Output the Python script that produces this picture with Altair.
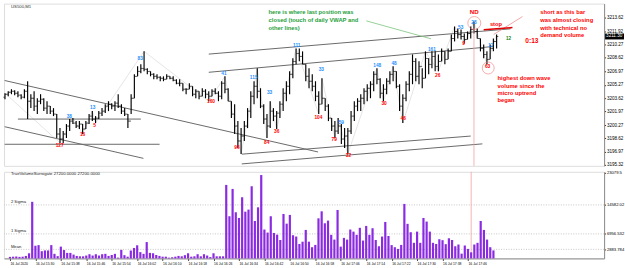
import altair as alt
import pandas as pd

# ---------------- data ----------------
bar_index = list(range(153))

open_ = [3203.73, 3204.10, 3204.35, 3204.47, 3204.22, 3203.98, 3203.73, 3204.47, 3203.23, 3203.60,
         3202.62, 3203.23, 3203.48, 3202.37, 3202.62, 3202.00, 3201.63, 3199.15, 3198.53, 3199.15,
         3200.14, 3200.76, 3200.51, 3200.14, 3200.39, 3199.77, 3200.51, 3201.38, 3201.01, 3201.13,
         3201.75, 3202.00, 3202.62, 3202.86, 3202.62, 3202.99, 3202.62, 3202.00, 3201.63, 3200.76,
         3203.60, 3206.32, 3206.94, 3207.31, 3207.19, 3206.94, 3206.57, 3206.32, 3206.20, 3206.08,
         3205.95, 3206.32, 3206.08, 3205.83, 3205.46, 3205.46, 3204.72, 3204.72, 3205.09, 3204.10,
         3204.47, 3203.85, 3204.47, 3204.10, 3203.85, 3204.47, 3204.22, 3203.85, 3205.46, 3204.72,
         3203.23, 3201.63, 3200.14, 3198.29, 3198.90, 3200.14, 3202.00, 3203.85, 3205.09, 3204.47,
         3202.62, 3201.01, 3200.14, 3202.00, 3201.38, 3201.75, 3202.86, 3204.22, 3205.09, 3206.57,
         3208.18, 3209.17, 3208.80, 3207.81, 3206.32, 3205.71, 3205.09, 3203.85, 3202.86, 3203.60,
         3202.62, 3201.13, 3200.14, 3199.52, 3200.14, 3198.53, 3198.90, 3199.52, 3201.38, 3202.62,
         3203.23, 3203.60, 3204.47, 3204.84, 3205.34, 3206.57, 3205.95, 3204.22, 3204.72, 3205.71,
         3206.57, 3206.94, 3205.09, 3202.62, 3203.60, 3205.34, 3206.57, 3208.18, 3206.32, 3207.56,
         3206.08, 3208.55, 3207.81, 3208.80, 3207.56, 3208.18, 3209.42, 3208.43, 3209.42, 3211.02,
         3211.89, 3211.52, 3211.27, 3210.90, 3211.64, 3212.14, 3211.89, 3211.02, 3209.79, 3209.04,
         3208.43, 3209.79, 3210.65]

high = [3204.22, 3204.47, 3204.72, 3204.59, 3204.47, 3204.10, 3204.72, 3205.71, 3204.10, 3204.47,
        3203.60, 3204.10, 3203.60, 3203.23, 3202.62, 3202.37, 3201.63, 3199.89, 3199.52, 3200.39,
        3201.01, 3201.13, 3200.76, 3200.76, 3200.39, 3200.76, 3201.63, 3202.00, 3201.38, 3202.00,
        3202.37, 3202.86, 3203.23, 3202.99, 3203.23, 3204.10, 3202.86, 3202.37, 3201.63, 3204.10,
        3206.57, 3207.56, 3207.81, 3209.42, 3207.31, 3206.94, 3206.70, 3206.57, 3206.32, 3206.32,
        3206.57, 3206.32, 3206.32, 3205.95, 3205.95, 3205.46, 3204.84, 3205.46, 3205.09, 3204.72,
        3204.47, 3204.84, 3204.72, 3204.47, 3204.72, 3204.84, 3204.47, 3205.71, 3206.32, 3204.84,
        3203.23, 3202.86, 3200.76, 3199.89, 3200.76, 3202.37, 3204.47, 3205.71, 3207.31, 3204.84,
        3202.86, 3201.63, 3203.23, 3202.37, 3202.00, 3203.23, 3204.84, 3205.71, 3206.94, 3208.55,
        3209.79, 3209.79, 3209.42, 3207.81, 3207.31, 3206.57, 3205.71, 3204.47, 3206.08, 3203.60,
        3202.86, 3201.13, 3200.76, 3201.13, 3200.39, 3199.89, 3199.89, 3202.00, 3203.23, 3203.60,
        3204.10, 3204.84, 3205.34, 3205.71, 3206.94, 3207.31, 3206.08, 3205.34, 3206.08, 3206.94,
        3207.56, 3206.94, 3205.34, 3204.10, 3205.71, 3206.94, 3209.04, 3208.55, 3208.18, 3207.31,
        3209.42, 3208.55, 3209.42, 3209.42, 3209.04, 3209.79, 3209.42, 3209.79, 3211.52, 3212.51,
        3212.26, 3212.14, 3211.64, 3211.89, 3212.51, 3213.13, 3212.26, 3211.02, 3210.28, 3209.42,
        3210.28, 3211.02, 3211.52]

low = [3203.48, 3203.85, 3204.10, 3203.98, 3203.73, 3203.48, 3203.60, 3201.01, 3202.37, 3202.00,
       3201.63, 3202.86, 3202.00, 3201.63, 3201.63, 3201.38, 3198.66, 3198.04, 3198.04, 3198.66,
       3199.52, 3200.39, 3199.89, 3199.77, 3199.15, 3199.77, 3200.39, 3200.76, 3200.51, 3201.01,
       3201.38, 3201.75, 3202.00, 3202.24, 3202.00, 3202.37, 3201.63, 3201.38, 3199.89, 3201.63,
       3203.60, 3206.32, 3206.70, 3206.94, 3206.57, 3206.32, 3205.95, 3205.95, 3205.71, 3205.71,
       3205.95, 3205.95, 3205.71, 3205.34, 3205.09, 3204.47, 3204.10, 3204.72, 3203.85, 3203.60,
       3203.48, 3203.85, 3203.60, 3203.23, 3203.85, 3204.10, 3203.23, 3203.48, 3204.22, 3203.23,
       3201.13, 3199.15, 3197.42, 3196.68, 3198.29, 3199.89, 3201.13, 3202.86, 3203.60, 3202.37,
       3200.39, 3198.66, 3199.89, 3200.76, 3199.77, 3201.13, 3202.00, 3203.23, 3204.10, 3206.08,
       3207.81, 3208.18, 3207.81, 3205.71, 3204.84, 3204.47, 3203.23, 3201.63, 3202.86, 3202.00,
       3200.76, 3199.52, 3198.66, 3199.15, 3197.92, 3197.42, 3196.68, 3199.15, 3200.76, 3202.00,
       3202.00, 3202.86, 3203.23, 3203.60, 3204.47, 3205.34, 3203.60, 3203.23, 3204.10, 3205.34,
       3205.71, 3204.84, 3202.00, 3200.51, 3203.23, 3204.47, 3205.34, 3205.71, 3205.34, 3204.84,
       3206.08, 3206.57, 3207.31, 3206.94, 3206.94, 3208.18, 3207.81, 3208.43, 3209.42, 3210.65,
       3211.02, 3210.90, 3210.41, 3210.90, 3211.02, 3211.64, 3211.02, 3209.42, 3208.55, 3207.81,
       3208.43, 3209.42, 3209.79]

close = [3204.10, 3204.35, 3204.47, 3204.22, 3203.98, 3203.73, 3204.47, 3203.23, 3203.60, 3202.62,
         3203.23, 3203.48, 3202.37, 3202.62, 3202.00, 3201.63, 3199.15, 3198.53, 3199.15, 3200.14,
         3200.76, 3200.51, 3200.14, 3200.39, 3199.77, 3200.51, 3201.38, 3201.01, 3201.13, 3201.75,
         3202.00, 3202.62, 3202.86, 3202.62, 3202.99, 3202.62, 3202.00, 3201.63, 3200.76, 3203.60,
         3206.32, 3206.94, 3207.31, 3207.19, 3206.94, 3206.57, 3206.32, 3206.20, 3206.08, 3205.95,
         3206.32, 3206.08, 3205.83, 3205.46, 3205.46, 3204.72, 3204.72, 3205.09, 3204.10, 3204.47,
         3203.85, 3204.47, 3204.10, 3203.85, 3204.47, 3204.22, 3203.85, 3205.46, 3204.72, 3203.23,
         3201.63, 3200.14, 3198.29, 3198.90, 3200.14, 3202.00, 3203.85, 3205.09, 3204.47, 3202.62,
         3201.01, 3200.14, 3202.00, 3201.38, 3201.75, 3202.86, 3204.22, 3205.09, 3206.57, 3208.18,
         3209.17, 3208.80, 3207.81, 3206.32, 3205.71, 3205.09, 3203.85, 3202.86, 3203.60, 3202.62,
         3201.13, 3200.14, 3199.52, 3200.14, 3198.53, 3198.90, 3199.52, 3201.38, 3202.62, 3203.23,
         3203.60, 3204.47, 3204.84, 3205.34, 3206.57, 3205.95, 3204.22, 3204.72, 3205.71, 3206.57,
         3206.94, 3205.09, 3202.62, 3203.60, 3205.34, 3206.57, 3208.18, 3206.32, 3207.56, 3206.08,
         3208.55, 3207.81, 3208.80, 3207.56, 3208.18, 3209.42, 3208.43, 3209.42, 3211.02, 3211.89,
         3211.52, 3211.27, 3210.90, 3211.64, 3212.14, 3211.89, 3211.02, 3209.79, 3209.04, 3208.43,
         3209.79, 3210.65, 3211.27]

volume = [900, 950, 1000, 900, 950, 1150, 1850, 15400, 3800, 4000,
          2400, 2600, 2600, 4000, 1700, 1100, 3600, 2700, 1950, 1950,
          1500, 1150, 1050, 1050, 1250, 1600, 1250, 1600, 1250, 1600,
          1700, 1150, 1400, 1700, 700, 2750, 1350, 950, 2550, 3250,
          3950, 2150, 1700, 4800, 1950, 1850, 1400, 1150, 950, 950,
          700, 800, 950, 1150, 1050, 1350, 1850, 950, 1050, 1600,
          1050, 1600, 1250, 850, 1850, 1050, 1050, 1050, 19850, 11600,
          18800, 12650, 11150, 16600, 12800, 13350, 19500, 10350, 13950, 22450,
          8100, 7300, 11600, 7200, 6750, 5350, 12200, 9650, 11950, 6600,
          6250, 4300, 4900, 8000, 4900, 3450, 4050, 11050, 12900, 9750,
          10450, 6700, 5450, 13250, 3600, 5900, 5450, 8100, 7550, 6700,
          8550, 5200, 9050, 6700, 8450, 5350, 3700, 6250, 10100, 6400,
          4000, 3450, 3000, 4050, 14850, 9600, 7400, 4600, 7550, 4600,
          11150, 10200, 7550, 4600, 4300, 5550, 5300, 4250, 5800, 5350,
          3700, 4150, 1750, 3900, 3000, 2100, 4150, 4600, 10350, 8000,
          5450, 3450, 2600]

price_ticks = [3213.62, 3211.92, 3210.27, 3208.62, 3206.97, 3205.27,
               3203.62, 3201.97, 3200.27, 3198.62, 3196.97, 3195.32]
current_price = 3211.30
volume_ticks = [2883.784, 6956.532, 14582.02, 23079.5]
sigma_values = [14582.02, 6956.532, 2883.784]
sigma_names = ["2 Sigma", "1 Sigma", "Mean"]
time_ticks = [0, 8, 16, 24, 32, 40, 48, 56, 64, 72, 80, 88, 96, 104, 112, 120, 128, 136, 144]
time_labels = ["16 Jul 2020", "16 Jul 15:30", "16 Jul 15:38", "16 Jul 15:46", "16 Jul 15:54",
               "16 Jul 16:02", "16 Jul 16:10", "16 Jul 16:18", "16 Jul 16:26", "16 Jul 16:34",
               "16 Jul 16:42", "16 Jul 16:50", "16 Jul 16:58", "16 Jul 17:06", "16 Jul 17:14",
               "16 Jul 17:22", "16 Jul 17:30", "16 Jul 17:38", "16 Jul 17:46"]

# wave labels (bar position, price, text, colour)
wave_x = [19.9, 27.1, 41.8, 67.7, 76.9, 81.8, 90.2, 97.8, 104.0, 115.1, 120.3, 132.0, 140.9, 145.0, 150.2,
          16.9, 24.0, 27.7, 63.7, 71.7, 80.9, 84.0, 96.9, 101.8, 106.2, 117.2, 123.1, 133.8, 141.8, 149.2]
wave_p = [3201.25, 3202.37, 3208.43, 3206.57, 3206.08, 3204.22, 3210.03, 3207.07, 3200.51, 3207.56, 3207.81,
          3209.54, 3212.38, 3213.00, 3210.03,
          3197.67, 3199.03, 3200.14, 3203.11, 3197.42, 3198.04, 3199.40, 3201.13, 3198.41, 3196.43,
          3202.86, 3201.01, 3206.32, 3210.28, 3207.44]
wave_text = ["38", "13", "83", "41", "115", "33", "111", "33", "59", "148", "48", "161", "53", "28", "12",
             "127", "16", "5", "160", "96", "84", "36", "104", "79", "32", "30", "46", "26", "9", "63"]
wave_color = ["#1e90ff"] * 15 + ["#ff0000"] * 15

# zigzag swing points
zz_x = [0, 17, 21, 24, 27, 28, 43, 63, 68, 73, 78, 81, 82, 84, 90, 97, 98, 102, 103, 106,
        115, 117, 120, 123, 130, 134, 139, 142, 145, 149, 152]
zz_p = [3204.22, 3198.04, 3201.13, 3199.15, 3202.00, 3200.51, 3209.42, 3203.23, 3206.32, 3196.68,
        3207.31, 3198.66, 3203.23, 3199.77, 3209.79, 3201.63, 3206.08, 3198.66, 3201.13, 3196.68,
        3207.31, 3203.23, 3207.56, 3200.51, 3209.42, 3206.94, 3212.51, 3210.41, 3213.13, 3207.81, 3211.52]

# trend lines (start bar, start price, end bar, end price)
tl_x1 = [-0.1, -0.1, 4.0, -0.1, 63.0, 63.0, 73.2, 73.2]
tl_p1 = [3205.80, 3200.06, 3201.01, 3197.88, 3209.08, 3206.82, 3196.65, 3195.44]
tl_x2 = [96.8, 42.8, 42.0, 47.8, 156.3, 151.2, 144.0, 147.6]
tl_p2 = [3196.92, 3196.13, 3201.01, 3197.88, 3212.22, 3210.03, 3198.90, 3197.93]

green_note = ["here is where last position was", "closed (touch of daily VWAP and", "other lines)"]
green_note_p = [3214.36, 3213.33, 3212.38]
short_note = ["short  as this bar", "was almost closing", "with technical no", "demand volume"]
short_note_p = [3214.36, 3213.33, 3212.38, 3211.40]
wave_note = ["highest down wave", "volume since the", "micro uptrend", "began"]
wave_note_p = [3206.09, 3205.15, 3204.22, 3203.32]

# ---------------- chart ----------------
W, HP, HV = 603, 163, 87
FONT = "Liberation Sans"
xs = alt.Scale(domain=[-0.31, 185.23], nice=False, zero=False)
ps = alt.Scale(domain=[3195.20, 3215.35], nice=False, zero=False)
vs = alt.Scale(domain=[500, 23300], nice=False, zero=False)

df = pd.DataFrame(dict(i=bar_index, o=open_, h=high, l=low, c=close, v=volume))

price_axis = alt.Axis(orient="right", values=price_ticks, format=".2f", title=None, grid=False,
                      labelFontSize=4.6, labelFont=FONT, labelColor="#000", tickSize=1.5,
                      tickColor="#333", labelPadding=0.8, domainColor="#8c8c8c",
                      labelOverlap=False, labelFlush=False)
label_expr = "[" + ",".join(repr(s) for s in time_labels) + "][round(datum.value / 8)]"
x_axis = alt.Axis(values=time_ticks, labelExpr=label_expr, labelAlign="left", labelFontSize=3.4,
                  labelFont=FONT, labelColor="#000", tickSize=2, tickColor="#333", labelPadding=1,
                  grid=False, domainColor="#8c8c8c", labelOverlap=False, labelFlush=False, title=None)
vol_axis = alt.Axis(orient="right", values=volume_ticks, format=".7~g", title=None, grid=False,
                    labelFontSize=4.2, labelFont=FONT, labelColor="#000", tickSize=1.5,
                    tickColor="#333", labelPadding=0.8, domainColor="#8c8c8c",
                    labelOverlap=False, labelFlush=False)


def X(f="x"):
    return alt.X(f"{f}:Q", scale=xs, axis=None)


def XV(f="x"):
    return alt.X(f"{f}:Q", scale=xs, axis=x_axis)


def P(f="p"):
    return alt.Y(f"{f}:Q", scale=ps, axis=price_axis)


def V(f="v"):
    return alt.Y(f"{f}:Q", scale=vs, axis=vol_axis)


zig = alt.Chart(pd.DataFrame(dict(x=zz_x, p=zz_p))).mark_line(
    color="#d9d9d9", strokeWidth=0.7).encode(x=X(), y=P())

tl = alt.Chart(pd.DataFrame(dict(x=tl_x1, p=tl_p1, x2=tl_x2, p2=tl_p2))).mark_rule(
    color="#6a6a6a", strokeWidth=1).encode(x=X(), x2="x2:Q", y=P(), y2="p2:Q")

hl = alt.Chart(df).mark_rule(color="black", strokeWidth=1.15).encode(
    x=X("i"), y=P("l"), y2="h:Q")
ot = alt.Chart(df).mark_tick(orient="horizontal", color="black", size=1.6, thickness=0.9,
                             xOffset=-0.9).encode(x=X("i"), y=P("o"))
ct = alt.Chart(df).mark_tick(orient="horizontal", color="black", size=1.6, thickness=0.9,
                             xOffset=0.9).encode(x=X("i"), y=P("c"))

vline_p = alt.Chart(pd.DataFrame(dict(x=[145], p=[3212.26], p2=[3195.20]))).mark_rule(
    color="#f0a0a0", strokeWidth=0.8).encode(x=X(), y=P(), y2="p2:Q")

thin = pd.DataFrame(dict(x=[111.7, 151.1], p=[3213.21, 3211.52], x2=[131.7, 160.0], p2=[3210.98, 3213.74],
                         col=["#7cc47c", "#f09090"]))
thin_lines = alt.Chart(thin).mark_rule(strokeWidth=0.8).encode(
    x=X(), x2="x2:Q", y=P(), y2="p2:Q", color=alt.Color("col:N", scale=None))
stop_line = alt.Chart(pd.DataFrame(dict(x=[148.0], p=[3212.10], x2=[156.9], p2=[3212.38]))).mark_rule(
    color="#e00000", strokeWidth=1.5).encode(x=X(), x2="x2:Q", y=P(), y2="p2:Q")

circles = alt.Chart(pd.DataFrame(dict(x=[145.1, 149.4], p=[3212.94, 3207.35], s=[170, 144]))).mark_point(
    shape="circle", filled=False, color="#f07070", strokeWidth=0.8).encode(
    x=X(), y=P(), size=alt.Size("s:Q", scale=None))

waves = alt.Chart(pd.DataFrame(dict(x=wave_x, p=wave_p, t=wave_text, col=wave_color))).mark_text(
    font=FONT, fontSize=4.8, fontWeight="bold", baseline="middle").encode(
    x=X(), y=P(), text="t:N", color=alt.Color("col:N", scale=None))


def block(lines, prices, x, color, size=5.8, align="left", weight="bold"):
    d = pd.DataFrame(dict(x=[x] * len(lines), p=prices, t=lines))
    return alt.Chart(d).mark_text(font=FONT, fontSize=size, fontWeight=weight, align=align,
                                  baseline="middle", color=color).encode(x=X(), y=P(), text="t:N")


green_txt = block(green_note, green_note_p, 81.5, "#1ea03c")
short_txt = block(short_note, short_note_p, 165.5, "#ff0000")
wave_txt = block(wave_note, wave_note_p, 152.3, "#ff0000")
nd_txt = block(["ND"], [3214.36], 145.1, "#ff0000", size=6.2, align="center")
stop_txt = block(["stop"], [3212.82], 151.8, "#ff0000", size=5.8, align="center")
g12_txt = block(["12"], [3210.90], 155.7, "#108010", size=4.6, align="center")
timer_txt = block(["0:13"], [3210.75], 162.9, "#ff0000", size=6.6, align="center")
sym_txt = block(["US500,M1"], [3214.98], 1.85, "#333333", size=4.3, weight="normal")

cur = pd.DataFrame(dict(p=[3211.64], p2=[3210.90], c=[current_price]))
cur_box = alt.Chart(cur).mark_rect(color="black").encode(
    x=alt.value(W + 1), x2=alt.value(W + 20), y=P(), y2="p2:Q")
cur_txt = alt.Chart(cur).mark_text(font=FONT, fontSize=4.6, color="white", align="left",
                                   baseline="middle").encode(
    x=alt.value(W + 2), y=P("c"), text=alt.Text("c:Q", format=".2f"))

price = alt.layer(zig, tl, hl, ot, ct, vline_p, thin_lines, stop_line, circles, waves,
                  green_txt, short_txt, wave_txt, nd_txt, stop_txt, g12_txt, timer_txt, sym_txt,
                  cur_box, cur_txt).properties(width=W, height=HP)

# ---- volume panel ----
sig = pd.DataFrame(dict(v=sigma_values, t=sigma_names, x=[0.3] * 3))
sig_rules = alt.Chart(sig).mark_rule(color="#b8b8b8", strokeWidth=0.8, strokeDash=[1, 1.5]).encode(y=V())
sig_text = alt.Chart(sig).mark_text(font=FONT, fontSize=4.2, align="left", baseline="bottom",
                                    dy=-0.5, color="#222").encode(x=XV(), y=V(), text="t:N")
vbars = alt.Chart(df).mark_bar(size=2.2, color="#8a2be2").encode(
    x=XV("i"), y=V("v"), y2=alt.datum(500))
vline_v = alt.Chart(pd.DataFrame(dict(x=[145]))).mark_rule(color="#f0a0a0", strokeWidth=0.8).encode(x=XV())
vol_title = alt.Chart(pd.DataFrame(dict(x=[0.3], v=[22780], t=["TrueVolumeSurrogate 27200.0000 27200.0000"]))
                      ).mark_text(font=FONT, fontSize=4.3, align="left", baseline="middle",
                                  color="#222").encode(x=XV(), y=V(), text="t:N")

vol = alt.layer(sig_rules, vline_v, vbars, sig_text, vol_title).properties(width=W, height=HV)

chart = alt.vconcat(price, vol, spacing=2).properties(
    padding={"left": 2, "top": 2, "right": 0, "bottom": 0}, background="white"
).configure_view(stroke="#8c8c8c", strokeWidth=1).configure(font=FONT)

chart.save("out.html", embed_options={"renderer": "svg", "actions": False})
